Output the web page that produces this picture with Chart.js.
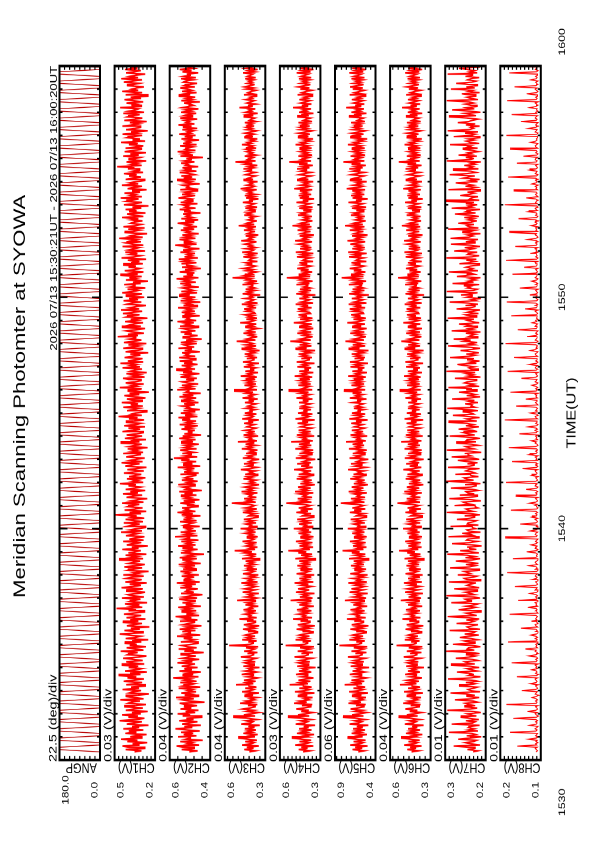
<!DOCTYPE html>
<html>
<head>
<meta charset="utf-8">
<script src="https://cdn.jsdelivr.net/npm/chart.js@4.4.1/dist/chart.umd.min.js"></script>
<style>
  html, body { margin: 0; padding: 0; background: #fff; }
  body { width: 595px; height: 842px; overflow: hidden; position: relative; }
  /* the plot is drawn in landscape, then turned and stretched onto the portrait page */
  #sheet { position: absolute; left: 0; top: 0; width: 648px; height: 595px;
    transform-origin: 0 0; transform: translate(0, 842px) rotate(-90deg) scale(1.2994, 1); }
  #sheet canvas { position: absolute; left: 0; top: 0; }
</style>
</head>
<body>
<div id="sheet"></div>
<script>
const titleText = 'Meridian Scanning Photomter at SYOWA';
const headerText = '2026 07/13 15:30:21UT - 2026 07/13 16:00:20UT';
const timeAxisTitle = 'TIME(UT)';
const timeTickValues = [0, 10, 20, 30];
const timeTickLabels = ['1530', '1540', '1550', '1600'];

const panelLabels = ['ANGP', 'CH1(V)', 'CH2(V)', 'CH3(V)', 'CH4(V)', 'CH5(V)', 'CH6(V)', 'CH7(V)', 'CH8(V)'];
const panelMax = [180, 0.5, 0.6, 0.6, 0.6, 0.9, 0.6, 0.3, 0.2];
const panelMin = [0, 0.2, 0.4, 0.3, 0.3, 0.4, 0.3, 0.2, 0.1];
const panelDiv = [22.5, 0.03, 0.04, 0.04, 0.03, 0.06, 0.04, 0.01, 0.01];
const divLabels = ['22.5 (deg)/div', '0.03 (V)/div', '0.04 (V)/div', '0.04 (V)/div', '0.03 (V)/div',
  '0.06 (V)/div', '0.04 (V)/div', '0.01 (V)/div', '0.01 (V)/div'];
const maxLabels = ['180.0', '0.5', '0.6', '0.6', '0.6', '0.9', '0.6', '0.3', '0.2'];
const minLabels = ['0.0', '0.2', '0.4', '0.3', '0.3', '0.4', '0.3', '0.2', '0.1'];

// sampling: record starts 15:30:21, angle logged every 6 s, channels every 3 s
const startMin = 21 / 60;
const angpStepMin = 6 / 60;
const chStepMin = 3 / 60;

// scan angle (deg): quick sweep, dwell at the end, sweep back
const angpValues = [
  0,180,180,0,0,180,180,0,0,180,180,0,0,180,180,0,0,180,180,0,
  0,180,180,0,0,180,180,0,0,180,180,0,0,180,180,0,0,180,180,0,
  0,180,180,0,0,180,180,0,0,180,180,0,0,180,180,0,0,180,180,0,
  0,180,180,0,0,180,180,0,0,180,180,0,0,180,180,0,0,180,180,0,
  0,180,180,0,0,180,180,0,0,180,180,0,0,180,180,0,0,180,180,0,
  0,180,180,0,0,180,180,0,0,180,180,0,0,180,180,0,0,180,180,0,
  0,180,180,0,0,180,180,0,0,180,180,0,0,180,180,0,0,180,180,0,
  0,180,180,0,0,180,180,0,0,180,180,0,0,180,180,0,0,180,180,0,
  0,180,180,0,0,180,180,0,0,180,180,0,0,180,180,0,0,180,180,0,
  0,180,180,0,0,180,180,0,0,180,180,0,0,180,180,0,0,180,180,0,
  0,180,180,0,0,180,180,0,0,180,180,0,0,180,180,0,0,180,180,0,
  0,180,180,0,0,180,180,0,0,180,180,0,0,180,180,0,0,180,180,0,
  0,180,180,0,0,180,180,0,0,180,180,0,0,180,180,0,0,180,180,0,
  0,180,180,0,0,180,180,0,0,180,180,0,0,180,180,0,0,180,180,0,
  0,180,180,0,0,180,180,0,0,180,180,0,0,180,180,0,0,180,180,0,
  0
];

// channel outputs (mV)
const ch1Values = [
  352,301,418,276,389,442,315,367,258,406,331,452,297,384,349,263,421,338,395,287,
  436,322,371,249,410,356,298,463,341,279,398,327,445,306,372,255,417,363,291,429,
  344,268,401,376,312,458,285,353,419,333,246,392,367,304,441,319,378,272,414,350,
  296,433,361,283,405,339,471,308,386,261,423,347,299,396,325,448,281,369,414,292,
  358,437,317,264,402,374,329,455,286,343,411,268,388,336,426,302,371,251,418,345,
  307,392,462,288,354,427,313,380,243,409,366,297,440,324,385,271,412,349,303,431,
  362,278,397,341,486,295,372,316,424,259,389,353,308,446,283,367,402,329,274,415,
  337,291,449,364,305,388,262,421,346,299,413,378,284,436,320,357,248,403,371,296,
  428,342,276,394,359,311,467,289,381,334,419,265,398,351,306,443,327,373,254,410,
  368,302,437,285,391,343,279,416,362,320,452,297,384,338,269,407,375,314,432,290,
  356,419,281,372,337,493,304,389,266,426,348,293,401,363,317,445,286,378,331,258,
  412,369,296,438,327,384,273,418,351,305,397,342,461,288,366,324,409,271,393,346,
  302,431,359,284,406,337,264,421,378,315,449,293,386,340,277,414,368,308,437,289,
  372,327,403,256,391,348,299,456,316,382,268,424,353,296,411,339,287,442,364,311,
  398,275,429,343,306,417,361,282,394,330,471,298,376,345,260,408,357,319,436,291,
  381,326,447,294,363,409,271,352,428,317,389,246,404,341,299,462,333,375,284,418,
  349,303,396,438,278,367,321,413,262,385,354,297,441,312,379,336,457,288,402,345,
  293,426,368,309,384,251,419,347,292,436,373,318,398,265,431,356,301,389,342,477,
  327,401,283,365,414,339,274,447,306,392,358,289,423,334,381,257,409,372,315,438,
  361,296,452,318,387,343,268,411,379,302,434,326,393,281,418,351,297,444,366,323,
  404,272,385,348,429,307,364,253,416,338,391,299,458,329,373,286,425,345,311,397,
  342,437,291,378,316,402,267,449,354,308,384,331,421,274,396,362,319,441,287,369,
  413,305,371,334,466,292,387,348,259,427,363,316,399,278,435,341,305,382,357,294,
  376,324,445,287,359,408,271,393,337,419,302,368,249,431,352,297,414,376,322,455,
  298,383,346,427,311,371,263,404,358,297,446,325,389,342,276,418,367,305,393,336,
  431,289,366,314,402,353,481,299,375,331,412,266,398,345,309,437,321,384,268,426,
  357,301,419,343,287,394,328,452,274,368,312,405,359,296,441,333,378,255,415,349,
  306,442,371,319,387,262,428,346,295,401,363,314,436,282,392,348,323,459,301,376,
  339,412,288,365,427,304,381,253,418,347,296,444,325,372,338,283,409,361,318,432,
  368,297,451,326,389,344,273,415,357,306,424,331,386,269,403,352,298,437,314,379,
  356
];
const ch2Values = [
  503,462,541,478,527,566,455,512,489,548,437,521,497,559,468,531,484,544,452,515,
  572,491,528,446,539,507,463,553,482,518,441,536,499,561,474,522,458,547,493,530,
  465,519,551,428,503,538,481,569,457,526,495,543,470,512,487,556,449,533,506,478,
  548,467,524,499,583,458,537,484,513,446,552,490,528,462,541,503,475,562,488,519,
  454,536,509,471,547,495,432,528,481,556,467,514,539,492,459,545,502,476,531,487,
  564,449,522,497,538,473,551,486,515,443,534,508,477,549,463,526,493,571,455,518,
  484,542,469,527,501,558,446,521,490,537,474,512,553,465,529,496,438,544,481,519,
  507,461,548,489,525,471,565,452,532,498,516,479,541,456,523,503,547,468,534,491,
  528,475,556,447,519,494,538,466,551,487,512,431,545,499,523,462,537,484,559,472,
  516,490,543,458,529,501,574,463,521,488,546,471,513,496,535,452,527,505,483,549,
  467,532,495,518,448,541,486,562,473,524,507,539,459,515,492,548,476,531,453,522,
  499,545,468,527,486,553,441,519,503,536,474,558,491,512,462,540,483,526,508,470,
  547,457,529,495,516,478,561,449,534,488,521,469,543,502,579,464,525,493,538,481,
  512,548,467,530,497,523,456,544,485,519,472,553,501,536,445,528,490,511,476,542,
  493,527,461,551,484,516,470,539,498,557,463,524,489,545,476,532,451,518,503,537,
  476,529,458,544,497,518,469,552,483,536,447,521,505,563,472,527,491,540,459,514,
  538,482,519,466,547,501,527,453,534,489,568,475,516,498,541,462,529,487,551,470,
  495,553,474,522,508,539,451,526,493,557,479,514,531,466,545,488,519,442,537,503,
  462,528,491,546,473,511,535,457,549,497,523,481,562,469,516,504,538,452,527,494,
  541,476,517,489,559,463,532,498,525,449,546,486,519,473,554,501,528,465,543,482,
  507,536,456,521,494,548,471,529,503,566,458,533,487,516,478,551,492,524,446,539,
  484,517,542,468,531,499,555,461,527,491,512,475,547,496,534,453,521,506,573,467,
  531,489,508,552,473,526,492,538,457,519,502,545,479,533,465,516,498,561,481,524,
  459,543,486,517,501,534,448,529,496,551,472,523,509,538,463,546,485,512,494,557,
  518,474,539,495,527,462,548,483,515,506,535,452,522,497,564,471,531,489,543,476,
  502,551,468,526,491,537,459,521,508,544,478,529,493,518,436,547,485,532,499,561,
  473,524,512,486,549,467,534,501,517,455,542,489,526,472,553,496,511,481,538,464,
  535,492,557,478,519,503,527,464,548,487,531,512,469,544,495,521,458,536,507,483,
  496,529,451,543,488,516,474,556,499,523,467,539,491,512,548,476,527,502,465,533,
  521,486,544,471,532,498,516,459,537,492,551,483,509,527,463,545,488,518,475,541,
  497
];
const ch3Values = [
  418,372,456,391,437,348,472,405,383,449,362,428,501,377,414,356,463,398,431,369,
  452,384,426,341,479,407,392,443,365,421,538,376,459,402,351,437,388,468,413,374,
  429,359,487,396,441,378,412,363,455,391,426,347,472,408,384,449,366,422,517,389,
  436,371,458,402,355,433,387,475,414,362,447,396,425,343,463,381,419,452,374,440,
  398,367,481,409,386,432,358,457,401,378,443,353,568,412,388,426,364,471,395,437,
  376,449,411,357,428,392,466,380,415,345,459,403,372,436,387,492,364,421,407,451,
  382,427,369,462,398,416,352,447,389,434,373,509,406,361,441,393,424,348,468,410,
  379,455,402,368,431,386,478,357,423,397,444,371,415,352,466,405,383,437,362,429,
  396,458,374,421,389,446,341,473,408,385,434,367,452,399,527,376,418,358,443,391,
  427,364,469,402,381,438,356,417,395,451,372,429,388,483,361,414,403,445,368,432,
  385,459,397,352,426,411,374,467,389,436,363,448,402,379,421,548,371,433,394,457,
  366,418,403,442,358,476,391,425,377,453,404,346,437,386,414,369,462,398,431,355,
  449,392,416,373,481,407,364,433,389,458,376,421,401,345,467,395,428,367,442,384,
  411,358,474,397,429,371,446,386,503,362,419,404,437,353,461,392,425,378,448,401,
  369,436,412,381,457,394,427,348,471,405,388,432,366,452,397,419,374,443,386,428,
  403,367,451,389,424,356,469,398,417,374,439,391,532,362,428,407,381,455,369,436,
  392,446,375,419,363,482,401,427,354,448,386,413,371,459,397,424,347,466,408,383,
  437,361,428,394,453,377,415,342,476,399,431,368,444,389,421,512,373,438,402,359,
  416,387,462,371,433,405,356,449,392,418,367,486,403,379,441,362,427,397,453,374,
  381,439,403,457,368,421,389,474,357,432,406,381,447,394,415,338,468,402,429,371,
  445,376,418,392,469,383,426,361,438,407,543,379,452,398,416,364,437,389,461,405,
  372,431,396,447,358,423,409,378,463,392,429,356,471,401,384,442,369,418,397,452,
  406,365,479,398,421,387,445,352,434,411,376,458,394,426,369,497,382,439,404,363,
  428,393,412,366,456,402,437,374,419,389,448,361,431,405,378,467,396,422,351,443,
  387,452,371,426,399,441,364,483,408,379,435,395,418,357,462,391,427,403,371,446,
  413,376,439,401,462,383,424,359,447,396,521,372,431,408,386,453,367,419,394,438,
  397,444,368,421,389,473,402,432,377,415,359,456,392,426,381,448,405,363,437,399,
  441,383,427,395,452,366,418,404,378,461,389,433,356,447,402,421,374,492,397,429,
  371,436,408,382,445,397,416,363,458,391,427,405,368,439,384,452,413,379,431,396,
  424,387,449,371,433,409,392,465,378,421,356,442,398,417,384,458,369,431,402,377,
  418
];
const ch4Values = [
  428,376,461,399,442,352,487,413,381,455,368,437,512,389,419,347,474,402,436,365,
  458,391,424,339,483,417,396,447,372,429,541,383,466,408,357,442,386,479,421,370,
  437,361,495,401,452,384,418,358,468,397,431,344,489,412,379,456,365,427,528,392,
  446,374,463,409,351,438,393,481,419,367,459,401,433,336,472,386,424,463,378,449,
  405,362,492,414,389,441,355,468,408,372,451,348,557,416,394,432,369,484,398,446,
  381,457,419,353,433,397,477,384,426,341,468,409,376,447,391,503,362,431,412,462,
  387,435,366,474,402,423,349,456,393,441,371,521,411,358,452,397,433,344,481,416,
  383,466,408,364,439,389,492,352,431,399,456,367,421,346,477,409,385,448,359,437,
  398,471,372,428,391,457,336,486,412,381,443,362,464,404,538,378,426,354,455,393,
  434,359,481,406,377,449,351,423,397,463,368,438,384,497,357,419,405,458,364,441,
  388,472,399,347,435,416,369,479,392,447,358,461,406,374,429,553,366,442,396,468,
  362,426,407,455,352,488,393,434,372,466,409,341,449,383,421,364,476,401,438,349,
  461,394,423,368,495,411,357,443,386,472,371,429,403,338,482,397,437,361,456,381,
  418,353,486,399,437,367,459,383,517,356,427,408,448,346,475,394,433,372,462,405,
  364,447,416,377,469,396,435,342,485,409,382,441,359,466,399,427,369,457,384,436,
  409,371,458,393,431,359,478,402,425,376,446,388,536,361,437,411,379,464,372,443,
  396,452,378,427,361,491,406,434,352,457,389,419,368,471,401,431,344,476,413,382,
  441,363,437,398,462,374,421,339,485,402,439,366,454,391,428,523,371,447,405,357,
  422,385,471,368,442,409,353,458,394,426,364,497,407,376,451,359,436,399,463,372,
  379,446,407,468,365,429,391,483,354,441,409,378,456,396,423,337,479,404,437,369,
  452,374,425,393,478,381,433,358,447,411,549,376,461,399,424,361,446,387,472,408,
  369,438,397,456,354,431,412,375,474,391,436,352,482,403,381,451,366,426,398,463,
  411,362,488,399,428,384,454,348,443,415,373,469,392,435,366,507,378,448,407,359,
  435,391,418,363,466,404,446,371,427,386,457,358,441,409,375,478,394,431,347,453,
  384,461,368,433,398,452,361,494,411,376,444,393,426,353,473,389,436,406,367,457,
  417,373,448,402,473,381,432,356,458,395,531,369,441,411,383,464,362,428,392,449,
  394,455,365,429,386,484,403,441,374,421,354,467,389,435,378,459,408,359,446,397,
  451,379,436,393,463,362,425,406,374,472,386,442,351,458,403,429,369,503,395,438,
  366,447,411,378,456,396,423,358,469,388,435,407,363,449,381,463,416,374,441,394,
  432,383,459,368,443,412,389,476,373,428,351,453,397,424,379,469,364,439,403,371,
  421
];
const ch5Values = [
  612,538,684,571,652,497,713,596,552,671,523,638,746,559,617,506,695,582,643,529,
  677,563,631,488,721,608,571,659,534,627,802,548,689,593,512,654,566,708,618,541,
  641,521,734,579,667,552,609,518,691,574,636,493,726,601,547,672,528,628,781,566,
  654,538,697,595,508,642,569,718,613,531,683,587,631,479,706,562,624,689,544,661,
  589,526,741,604,563,649,511,697,592,541,668,502,846,609,571,637,532,724,581,657,
  553,682,611,512,638,576,711,559,627,487,694,598,546,662,573,753,521,631,604,687,
  562,641,534,709,588,619,503,674,571,653,537,778,604,516,668,583,638,496,721,609,
  556,698,594,532,647,568,736,507,628,586,676,539,618,498,712,601,561,662,516,641,
  582,704,543,631,572,669,484,727,607,558,653,526,693,596,807,549,627,512,678,574,
  638,521,716,593,551,667,508,623,582,688,537,641,566,742,519,614,598,671,532,646,
  566,706,583,509,641,611,543,718,573,664,525,686,597,548,627,829,536,652,578,703,
  529,624,598,663,507,731,576,637,548,694,601,494,668,561,619,533,712,587,641,514,
  672,578,616,542,739,603,521,656,567,703,547,631,592,489,721,583,642,528,681,559,
  612,508,728,584,636,541,684,563,764,519,627,596,658,502,709,577,631,553,692,594,
  536,659,608,558,701,579,641,497,723,602,561,648,527,691,586,623,544,667,562,639,
  598,547,676,583,629,511,718,592,637,554,683,571,791,528,646,603,562,697,541,664,
  573,669,548,627,519,738,596,641,506,687,568,619,537,709,584,652,493,716,611,552,
  659,531,643,579,694,546,621,487,733,598,656,527,681,563,638,771,542,667,589,518,
  626,561,712,538,664,603,509,689,577,632,531,748,601,556,673,519,648,584,702,546,
  554,671,596,718,528,641,573,731,512,662,608,549,692,581,624,482,726,597,653,536,
  684,547,628,571,729,553,646,516,677,609,818,548,703,586,631,524,668,574,719,601,
  539,653,584,697,513,642,611,551,726,573,658,509,737,598,561,686,532,634,583,711,
  614,527,747,586,639,562,689,498,663,617,549,718,571,651,536,776,557,672,596,521,
  648,576,621,532,703,594,668,543,637,569,691,516,662,608,553,734,579,642,496,684,
  563,702,538,646,581,687,529,756,613,552,668,579,634,508,717,566,657,597,541,699,
  621,543,679,591,724,558,642,519,696,584,797,537,662,611,566,708,529,637,573,681,
  582,694,534,638,569,741,596,663,551,627,503,713,574,652,547,686,602,526,671,588,
  667,559,649,578,702,531,623,594,548,729,571,667,512,698,589,634,543,762,582,651,
  538,671,606,552,693,583,628,521,719,569,654,597,536,681,556,714,618,547,663,579,
  644,562,697,537,668,609,574,724,551,637,518,688,586,629,563,711,538,659,592,546,
  617
];
const ch6Values = [
  441,389,473,412,452,367,496,425,398,464,381,447,519,402,433,361,483,414,449,378,
  467,403,437,352,491,428,409,458,384,442,538,396,476,419,369,455,398,487,434,383,
  448,374,503,415,461,396,429,371,478,408,443,357,497,424,392,467,378,438,527,405,
  457,386,472,421,364,449,404,489,431,379,468,412,444,349,481,399,436,471,391,459,
  417,374,499,426,401,452,368,476,419,384,462,361,552,427,406,444,382,491,409,457,
  394,466,429,366,445,409,486,396,437,354,477,421,388,458,403,509,375,443,424,471,
  399,447,379,483,414,435,362,467,405,452,384,521,423,371,463,409,446,357,489,428,
  396,475,419,377,451,401,498,365,443,411,467,379,433,359,486,421,397,459,372,448,
  411,479,385,441,403,468,349,493,424,393,455,375,473,416,534,391,438,367,465,406,
  446,372,488,418,389,461,364,435,409,472,381,449,397,504,369,431,417,468,377,453,
  401,481,411,361,447,428,382,487,404,459,371,471,418,387,441,546,379,454,408,477,
  375,438,419,466,365,495,405,446,384,476,421,354,461,395,433,377,485,413,449,362,
  472,406,435,381,502,423,369,455,398,481,384,441,415,351,491,409,449,373,467,393,
  429,366,493,411,449,379,469,395,518,368,439,419,459,358,484,406,445,384,473,417,
  377,458,428,389,478,408,446,355,493,421,394,453,371,476,411,439,381,468,396,447,
  421,383,466,404,442,371,487,413,436,388,457,399,529,373,448,426,392,474,381,455,
  407,463,386,438,373,497,416,444,364,469,398,429,379,482,412,443,356,487,424,393,
  452,374,448,409,474,386,433,352,493,414,451,378,466,401,439,517,383,458,417,368,
  432,397,481,379,455,418,364,469,404,437,376,502,419,388,463,371,447,409,475,386,
  391,457,418,478,376,441,403,492,366,452,421,389,468,407,434,348,486,415,449,381,
  463,386,437,405,489,392,446,369,458,423,541,387,472,411,436,373,457,399,483,419,
  381,449,409,468,366,443,424,387,485,403,448,364,494,415,393,462,377,438,409,474,
  423,373,497,411,439,396,466,359,455,427,384,481,403,446,377,513,389,459,418,371,
  447,402,429,374,477,416,458,383,438,397,469,369,452,421,386,489,406,443,358,465,
  395,473,379,444,409,464,372,503,423,387,456,404,437,364,485,401,448,417,378,469,
  428,384,459,413,486,392,443,367,471,407,536,381,453,422,394,476,373,439,403,461,
  405,467,376,441,397,493,414,452,385,433,365,478,401,447,389,471,419,371,457,408,
  463,391,448,404,475,373,437,418,386,483,397,454,362,469,414,441,381,512,406,449,
  377,459,422,389,468,407,435,369,481,399,446,418,374,461,393,475,427,386,452,405,
  444,395,471,379,455,423,401,488,384,439,362,466,409,436,391,481,376,451,414,383,
  433
];
const ch7Values = [
  231,218,245,226,241,279,214,236,251,229,222,268,239,211,247,224,233,291,219,244,
  228,243,237,215,284,232,226,249,217,240,262,223,235,246,212,229,295,238,221,253,
  226,243,251,219,231,276,234,216,248,227,245,287,214,237,244,230,220,266,241,225,
  249,218,233,293,236,213,242,229,242,271,221,234,247,216,238,286,227,244,252,219,
  231,274,240,224,249,215,236,298,228,246,243,213,232,281,226,239,254,220,235,264,
  243,217,252,230,225,289,214,241,246,233,219,272,237,228,248,216,244,294,222,236,
  249,211,234,267,240,223,248,229,218,285,235,245,251,214,230,297,227,238,251,220,
  242,278,216,233,247,238,224,291,212,247,253,231,221,269,236,244,253,215,229,288,
  239,226,249,218,241,274,232,214,250,228,245,295,217,235,263,223,240,246,210,232,
  283,237,221,248,244,216,292,229,236,258,213,242,247,225,233,287,218,246,244,230,
  222,271,239,227,252,214,238,296,231,243,249,219,226,277,235,248,256,212,234,290,
  241,220,264,228,245,249,217,232,286,236,223,251,213,240,298,230,247,254,218,237,
  275,225,233,249,242,215,293,239,228,245,220,246,269,216,231,284,236,244,252,211,
  238,296,229,241,250,218,234,273,224,249,246,214,236,289,227,243,255,221,232,267,
  240,217,249,231,246,292,222,237,248,215,242,281,229,235,257,219,244,295,226,236,
  233,251,219,242,228,283,237,214,247,225,239,266,221,248,234,292,216,241,229,253,
  245,222,238,276,213,244,231,249,226,297,218,236,242,227,251,270,223,239,215,246,
  229,288,241,224,248,217,235,262,232,214,246,293,228,240,221,253,237,279,219,243,
  236,225,249,213,284,231,242,220,247,238,266,216,233,245,229,294,222,239,251,218,
  247,231,214,272,238,226,250,219,243,289,224,236,212,248,233,261,241,220,296,229,
  221,246,237,254,216,282,230,244,225,239,213,271,247,228,236,291,219,242,232,249,
  238,215,265,241,227,248,223,297,234,216,245,238,221,278,243,230,252,214,237,286,
  226,249,234,219,287,242,231,246,213,258,237,225,293,218,241,247,229,268,236,222,
  244,230,253,217,239,276,225,248,236,214,284,233,242,221,249,229,298,216,240,235,
  219,263,241,228,245,213,292,237,223,250,231,246,274,220,238,215,256,243,227,289,
  247,224,236,281,218,241,232,253,226,237,212,296,240,229,249,222,267,235,244,218,
  232,257,220,244,235,288,216,239,248,227,243,214,279,236,225,251,219,294,241,230,
  238,215,249,226,269,242,233,218,245,291,224,237,252,213,240,283,228,246,221,236,
  251,229,242,296,219,236,247,224,238,259,215,243,231,286,227,248,220,241,273,234,
  223,245,237,216,250,232,294,221,240,228,247,266,214,239,233,281,226,244,218,249,
  235
];
const ch8Values = [
  112,108,111,114,109,158,110,113,107,112,109,131,111,106,113,110,108,176,112,109,
  114,110,107,127,111,109,113,108,112,168,110,107,111,114,109,133,112,108,110,113,
  107,185,111,109,113,108,112,121,110,107,114,111,109,147,112,108,110,113,107,126,
  111,109,112,114,108,159,110,107,113,109,111,122,108,112,110,114,107,172,111,109,
  113,108,110,130,112,107,109,114,111,138,108,112,110,113,107,181,111,109,114,108,
  112,125,110,107,113,109,111,149,108,112,114,107,110,123,109,113,111,108,112,177,
  107,110,113,109,111,132,108,112,110,114,107,156,111,109,113,108,112,126,110,107,
  114,111,109,164,112,108,110,113,107,121,111,109,114,112,108,183,110,107,113,109,
  111,128,108,112,114,110,107,169,113,109,111,108,112,135,110,107,114,111,109,124,
  112,108,113,110,107,188,111,109,114,112,108,127,110,113,107,111,109,151,112,108,
  110,114,107,122,111,109,113,108,112,174,110,107,111,114,109,129,112,108,110,113,
  107,162,111,109,113,108,112,136,110,107,114,111,109,186,112,108,110,113,107,123,
  111,109,112,114,108,145,110,107,113,109,111,171,108,112,110,114,107,128,111,109,
  113,108,110,179,112,107,109,114,111,124,108,112,110,113,107,153,111,109,114,108,
  112,131,110,107,113,109,111,189,108,112,114,107,110,126,109,113,111,108,112,161,
  107,110,113,109,111,137,108,112,110,114,107,175,111,109,113,108,112,122,110,107,
  114,111,109,148,112,108,110,113,107,182,111,109,114,112,108,129,110,107,113,109,
  111,166,108,112,114,110,107,125,113,109,111,108,112,187,110,107,114,111,109,134,
  112,108,113,110,107,157,111,109,114,112,108,121,110,113,107,111,109,173,112,108,
  110,114,107,139,111,109,113,108,112,184,110,107,111,114,109,127,112,108,110,113,
  107,152,111,109,113,108,112,123,110,107,114,111,109,170,112,108,110,113,107,141,
  111,109,112,114,108,186,110,107,113,109,111,126,108,112,110,114,107,163,111,109,
  113,108,110,132,112,107,109,114,111,178,108,112,110,113,107,124,111,109,114,108,
  112,155,110,107,113,109,111,130,108,112,114,107,110,189,109,113,111,108,112,136,
  107,110,113,109,111,167,108,112,110,114,107,122,111,109,113,108,112,181,110,107,
  114,111,109,128,112,108,110,113,107,159,111,109,114,112,108,143,110,107,113,109,
  111,176,108,112,114,110,107,125,113,109,111,108,112,185,110,107,114,111,109,131,
  112,108,113,110,107,149,111,109,114,112,108,172,110,113,107,111,109,127,112,108,
  110,114,107,183,111,109,113,108,112,135,110,107,111,114,109,165,112,108,110,113,
  107,124,111,109,113,108,112,178,110,107,114,111,109,146,112,108,110,113,107,187,
  111
];

const channelValues = [ch1Values, ch2Values, ch3Values, ch4Values, ch5Values, ch6Values, ch7Values, ch8Values];
const channelLineWidth = [1.25, 1.25, 1.25, 1.25, 1.25, 1.25, 1.1, 0.8];

// landscape geometry (logical px, before the horizontal stretch)
const SHEET_W = 648;
const SHEET_H = 595;
const PLOT_LEFT = 63.1;
const PLOT_RIGHT = 597.2;
const PANEL_TOP0 = 59.5;
const PANEL_PITCH = 55.1;
const PANEL_H = 40.5;
const FONT = '"Liberation Sans", Arial, Helvetica, sans-serif';

function toPoints(values, start, step, scale) {
  return values.map((v, i) => ({ x: start + i * step, y: v * scale }));
}

const panelDecor = {
  id: 'panelDecor',
  afterDraw(chart, args, o) {
    const { ctx, chartArea: a, scales: { x, y } } = chart;
    ctx.save();
    ctx.strokeStyle = '#000';
    ctx.fillStyle = '#000';

    // inward tick marks
    ctx.lineWidth = 1.2;
    ctx.beginPath();
    const nDiv = Math.round((o.max - o.min) / o.div);
    for (let i = 0; i <= nDiv; i++) {
      const v = o.min + i * o.div;
      if (v > o.max + 1e-9) break;
      const py = y.getPixelForValue(v);
      ctx.moveTo(a.left, py); ctx.lineTo(a.left + 3, py);
      ctx.moveTo(a.right, py); ctx.lineTo(a.right - 3, py);
    }
    for (let m = 0; m <= 30; m++) {
      const px = x.getPixelForValue(m);
      const len = m % 10 === 0 ? 8 : 3;
      ctx.moveTo(px, a.top); ctx.lineTo(px, a.top + len);
      ctx.moveTo(px, a.bottom); ctx.lineTo(px, a.bottom - len);
    }
    ctx.stroke();

    ctx.lineWidth = 2;
    ctx.strokeRect(a.left, a.top, a.right - a.left, a.bottom - a.top);

    // per-division note above the panel
    ctx.font = '11px ' + FONT;
    ctx.textAlign = 'left';
    ctx.textBaseline = 'alphabetic';
    ctx.fillText(o.divLabel, a.left - 1.5, a.top - 3);

    // value range labels
    ctx.font = '9px ' + FONT;
    ctx.textAlign = 'center';
    ctx.textBaseline = 'top';
    ctx.fillText(o.maxLabel, 40, a.top + 2);
    ctx.textBaseline = 'alphabetic';
    ctx.fillText(o.minLabel, 40, a.bottom - 2.5);

    // channel name
    ctx.save();
    ctx.font = '11px ' + FONT;
    ctx.translate(a.left - 2.5, (a.top + a.bottom) / 2 + 1.5);
    ctx.rotate(-Math.PI / 2);
    ctx.textAlign = 'center';
    ctx.fillText(o.label, 0, 0);
    ctx.restore();

    if (o.first) {
      ctx.font = '17px ' + FONT;
      ctx.textAlign = 'center';
      ctx.fillText(titleText, 343, 25);
      ctx.font = '10px ' + FONT;
      ctx.textAlign = 'right';
      ctx.fillText(headerText, a.right, a.top - 2.5);
    }

    if (o.last) {
      ctx.font = '9.5px ' + FONT;
      ctx.textBaseline = 'top';
      timeTickValues.forEach((t, i) => {
        const px = x.getPixelForValue(t);
        if (i === 0) {
          ctx.textAlign = 'right';
          ctx.fillText(timeTickLabels[i], px - 22, a.bottom + 17);
        } else if (i === timeTickValues.length - 1) {
          ctx.textAlign = 'left';
          ctx.fillText(timeTickLabels[i], px + 8, a.bottom + 17);
        } else {
          ctx.textAlign = 'center';
          ctx.fillText(timeTickLabels[i], px, a.bottom + 17);
        }
      });
      ctx.font = '12.5px ' + FONT;
      ctx.textAlign = 'center';
      ctx.fillText(timeAxisTitle, x.getPixelForValue(15), a.bottom + 25);
    }
    ctx.restore();
  }
};

function createPanel(i, points, color, width) {
  const canvas = document.createElement('canvas');
  canvas.width = SHEET_W;
  canvas.height = SHEET_H;
  document.getElementById('sheet').appendChild(canvas);
  const top = PANEL_TOP0 + i * PANEL_PITCH;
  return new Chart(canvas, {
    type: 'line',
    data: {
      datasets: [{
        data: points,
        borderColor: color,
        borderWidth: width,
        pointRadius: 0,
        tension: 0,
        fill: false,
      }],
    },
    options: {
      responsive: false,
      animation: false,
      devicePixelRatio: 2,
      events: [],
      layout: {
        padding: { left: PLOT_LEFT, right: SHEET_W - PLOT_RIGHT, top: top, bottom: SHEET_H - top - PANEL_H },
      },
      plugins: {
        legend: { display: false },
        tooltip: { enabled: false },
        panelDecor: {
          label: panelLabels[i],
          min: panelMin[i],
          max: panelMax[i],
          div: panelDiv[i],
          divLabel: divLabels[i],
          maxLabel: maxLabels[i],
          minLabel: minLabels[i],
          first: i === 0,
          last: i === panelLabels.length - 1,
        },
      },
      scales: {
        x: { type: 'linear', min: 0, max: 30, display: false },
        y: { type: 'linear', min: panelMin[i], max: panelMax[i], display: false },
      },
    },
    plugins: [panelDecor],
  });
}

createPanel(0, toPoints(angpValues, startMin, angpStepMin, 1), '#b80000', 0.7);
channelValues.forEach((vals, k) => {
  createPanel(k + 1, toPoints(vals, startMin, chStepMin, 0.001), '#ff0000', channelLineWidth[k]);
});
</script>
</body>
</html>
